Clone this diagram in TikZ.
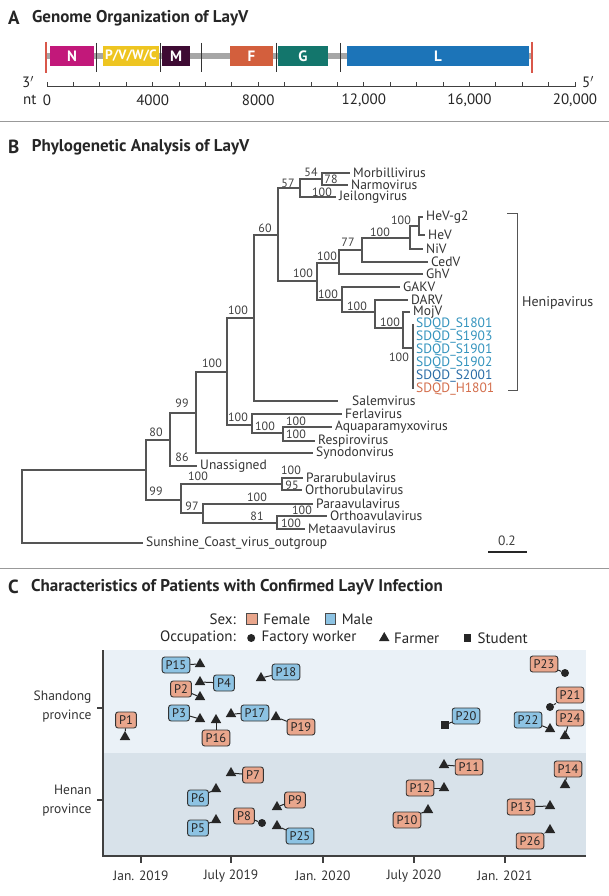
\documentclass[tikz,border=0pt]{standalone}
\usepackage{fontspec}
\setmainfont{PT Sans}
\usetikzlibrary{ positioning,      % For easy node-relative placements
                 shapes.geometric, % For the farmer triangles
               }

\definecolor{segN}{HTML}{C2187A}
\definecolor{segP}{HTML}{EEC521}
\definecolor{segM}{HTML}{3E0B33}
\definecolor{segF}{HTML}{D35F3D}
\definecolor{segG}{HTML}{13766C}
\definecolor{segL}{HTML}{1C74B8}
\definecolor{endred}{HTML}{D9574A}
\definecolor{treegray}{HTML}{555555}
\definecolor{sdqdblue}{HTML}{3494BE}
\definecolor{sdqddark}{HTML}{2A6CA6}
\definecolor{sdqdred}{HTML}{D46F4D}
\definecolor{femalefill}{HTML}{E9A68C}
\definecolor{malefill}{HTML}{8DC3E3}
\definecolor{shandongbg}{HTML}{EAF1F7}
\definecolor{henanbg}{HTML}{D8E2EA}

\newcommand{\leaffont}{\fontsize{13.5}{14}\selectfont}
\newcommand{\bootfont}{\fontsize{12}{13}\selectfont}

\tikzstyle{letter} = [anchor=west, inner sep=0pt, font=\fontsize{19}{20}\selectfont\bfseries, text=black!85]
\tikzstyle{title} = [anchor=west, inner sep=0pt, font=\fontsize{17}{19}\selectfont\bfseries, text=black!85]
\tikzstyle{rule} = [draw=black!40, line width=1pt]
\tikzstyle{segment} = [rectangle, minimum height=20pt, inner sep=0pt, text=white, font=\fontsize{15}{16}\selectfont\bfseries]
\tikzstyle{gap} = [draw=black!80, line width=1pt]
\tikzstyle{endmark} = [draw=endred, line width=1.6pt]
\tikzstyle{branch} = [draw=treegray, line width=1.1pt]
\tikzstyle{leaf} = [anchor=west, inner xsep=3pt, inner ysep=0pt, font=\leaffont, text=black!80]
\tikzstyle{boot} = [inner sep=0pt, font=\bootfont, text=black!75]
\tikzstyle{scalelbl} = [font=\fontsize{15}{17}\selectfont, text=black!85]
\tikzstyle{axislbl} = [font=\fontsize{13.5}{19}\selectfont, text=black!80]
\tikzstyle{legtxt} = [inner sep=0pt, font=\fontsize{15}{16}\selectfont, text=black!85]
\tikzstyle{keybox} = [rectangle, draw=black!70, line width=0.6pt, minimum size=10.5pt, inner sep=0pt]
\tikzstyle{pbox} = [rectangle, rounded corners=2.5pt, draw=black!80, line width=0.9pt, minimum height=16pt, inner xsep=3.5pt, inner ysep=0pt, font=\fontsize{12.5}{13}\selectfont, text=black!85]
\tikzstyle{female} = [pbox, fill=femalefill]
\tikzstyle{male} = [pbox, fill=malefill]
\tikzstyle{farmer} = [regular polygon, regular polygon sides=3, fill=black!85, inner sep=0pt, minimum size=12pt]
\tikzstyle{factory} = [circle, fill=black!85, inner sep=0pt, minimum size=8pt]
\tikzstyle{student} = [rectangle, fill=black!85, inner sep=0pt, minimum size=7.5pt]
\tikzstyle{link} = [draw=black!85, line width=1pt]
\tikzstyle{axis} = [draw=black!75, line width=1.2pt]

\begin{document}
\begin{tikzpicture}[x=1pt, y=-1pt]
  \fill[white] (0,0) rectangle (609,896);
  \useasboundingbox (0,0) rectangle (609,896);

  % ---------------- A: genome
  \node (la) [letter] at (8,18) {A};
  \node (ta) [title, right=12pt of la] {Genome Organization of LayV};

  \coordinate (g3) at (46,56);
  \coordinate (g5) at (532,56);
  \draw[line width=6pt, draw=black!35] (g3) -- (g5);
  \node (sN) [segment, fill=segN, minimum width=44pt] at (72,56) {N};
  \node (sP) [segment, fill=segP, minimum width=56pt, font=\fontsize{13.5}{15}\selectfont\bfseries] at (131,56) {P/V/W/C};
  \node (sM) [segment, fill=segM, minimum width=28pt] at (176,56) {M};
  \node (sF) [segment, fill=segF, minimum width=43pt] at (251.5,56) {F};
  \node (sG) [segment, fill=segG, minimum width=50pt] at (303,56) {G};
  \node (sL) [segment, fill=segL, minimum width=182pt] at (438,56) {L};
  \foreach \x in {96,160.5,201,276,340}
    \draw[gap] (\x,43) -- (\x,72);
  \draw[endmark] (g3) ++(0,-14) -- ++(0,31);
  \draw[endmark] (g5) ++(0,-14) -- ++(0,31);

  % nt scale
  \draw[draw=black!75, line width=1pt] (47,87) -- (575,87);
  \foreach \i in {0,...,20}
    \draw[draw=black!75, line width=1pt] ({47+26.4*\i},87) -- ++(0,-5);
  \node (p3) [scalelbl] at (28,82) {3$'$};
  \node (p5) [scalelbl] at (588,82) {5$'$};
  \node (nt) [scalelbl, anchor=east] at (40,100) {nt};
  \node (t0) [scalelbl] at (47,100) {0};
  \foreach \v/\t in {4/4000, 8/8000, 12/{12,000}, 16/{16,000}, 20/{20,000}}
    \node[scalelbl] at ({47+26.4*\v},100) {\t};

  \draw[rule] (0,122) -- (609,122);

  % ---------------- B: tree
  \node (lb) [letter] at (8,147) {B};
  \node (tb) [title, right=12pt of lb] {Phylogenetic Analysis of LayV};

  % splits: x of the split, y where its parent branch meets it
  \coordinate (root) at (22,506);
  \coordinate (nBase) at (146,470);
  \coordinate (nUpper) at (170,440);
  \coordinate (nOrth) at (196,413);
  \coordinate (nCore) at (227,372);
  \coordinate (nHenJ) at (254,318);
  \coordinate (nMid) at (278,235);
  \coordinate (nJeil) at (300,188);
  \coordinate (nMorb) at (322,179);
  \coordinate (nHeni) at (317,281);
  \coordinate (nHev1) at (339,263);
  \coordinate (nHev2) at (362,250);
  \coordinate (nHev3) at (410,238);
  \coordinate (nHev4) at (419,226);
  \coordinate (nGak) at (342,300);
  \coordinate (nDar) at (375,312);
  \coordinate (nMoj) at (403,328);
  \coordinate (nSd) at (413,348);
  \coordinate (nFer) at (252,425);
  \coordinate (nResp) at (283,433);
  \coordinate (nRubAv) at (181,500);
  \coordinate (nRub) at (282,484);
  \coordinate (nAv) at (203,513);
  \coordinate (nAv2) at (277,523);

  % tips
  \node (morb) [leaf] at (350,173) {Morbillivirus};
  \node (narm) [leaf] at (348,185) {Narmovirus};
  \node (jeil) [leaf] at (336,197) {Jeilongvirus};
  \node (hevg) [leaf] at (423,217) {HeV-g2};
  \node (hev) [leaf] at (425,235) {HeV};
  \node (niv) [leaf] at (423,249) {NiV};
  \node (cedv) [leaf] at (428,262) {CedV};
  \node (ghv) [leaf] at (423,274) {GhV};
  \node (gakv) [leaf] at (400,287) {GAKV};
  \node (darv) [leaf] at (408,300) {DARV};
  \node (mojv) [leaf] at (410,312) {MojV};
  \node (sd1) [leaf, text=sdqdblue] at (413,324) {SDQD\_S1801};
  \node (sd2) [leaf, text=sdqdblue] at (413,337) {SDQD\_S1903};
  \node (sd3) [leaf, text=sdqdblue] at (413,350) {SDQD\_S1901};
  \node (sd4) [leaf, text=sdqdblue] at (413,363) {SDQD\_S1902};
  \node (sd5) [leaf, text=sdqddark] at (413,376) {SDQD\_S2001};
  \node (sd6) [leaf, text=sdqdred] at (413,389) {SDQD\_H1801};
  \node (salem) [leaf, inner xsep=14pt] at (338,401) {Salemvirus};
  \node (ferla) [leaf] at (342,414) {Ferlavirus};
  \node (aqua) [leaf] at (332,427) {Aquaparamyxovirus};
  \node (resp) [leaf] at (315,441) {Respirovirus};
  \node (syno) [leaf] at (313,453) {Synodonvirus};
  \node (unas) [leaf] at (197,466) {Unassigned};
  \node (parar) [leaf] at (303,478) {Pararubulavirus};
  \node (orthr) [leaf] at (302,490) {Orthorubulavirus};
  \node (paraa) [leaf] at (313,504) {Paraavulavirus};
  \node (orthoa) [leaf] at (327,516) {Orthoavulavirus};
  \node (meta) [leaf] at (305,529) {Metaavulavirus};
  \node (sunc) [leaf] at (143,543) {Sunshine\_Coast\_virus\_outgroup};

  \draw[branch] (root) |- (nBase) (root) |- (sunc.west)
    (nBase) |- (nUpper) (nBase) |- (nRubAv)
    (nUpper) |- (nOrth) (nUpper) |- (unas.west)
    (nOrth) |- (nCore) (nOrth) |- (syno.west)
    (nCore) |- (nHenJ) (nCore) |- (nFer)
    (nHenJ) |- (nMid) (nHenJ) |- (salem.west)
    (nMid) |- (nJeil) (nMid) |- (nHeni)
    (nJeil) |- (nMorb) (nJeil) |- (jeil.west)
    (nMorb) |- (morb.west) (nMorb) |- (narm.west)
    (nHeni) |- (nHev1) (nHeni) |- (nGak)
    (nHev1) |- (nHev2) (nHev1) |- (ghv.west)
    (nHev2) |- (nHev3) (nHev2) |- (cedv.west)
    (nHev3) |- (nHev4) (nHev3) |- (niv.west)
    (nHev4) |- (hevg.west) (nHev4) |- (hev.west)
    (nGak) |- (gakv.west) (nGak) |- (nDar)
    (nDar) |- (darv.west) (nDar) |- (nMoj)
    (nMoj) |- (mojv.west) (nMoj) |- (nSd)
    (nSd) |- (sd1.west) (nSd) |- (sd6.west)
    (nFer) |- (ferla.west) (nFer) |- (nResp)
    (nResp) |- (aqua.west) (nResp) |- (resp.west)
    (nRubAv) |- (nRub) (nRubAv) |- (nAv)
    (nRub) |- (parar.west) (nRub) |- (orthr.west)
    (nAv) |- (paraa.west) (nAv) |- (nAv2)
    (nAv2) |- (orthoa.west) (nAv2) |- (meta.west);

  % bootstrap values
  \node (b54) [boot] at (311,172) {54};
  \node (b78) [boot] at (331,179) {78};
  \node (b57) [boot] at (288,183) {57};
  \node (bJeil) [boot] at (322,192) {100};
  \node (b60) [boot] at (265,228) {60};
  \node (bHev4) [boot] at (401,220) {100};
  \node (bHev3) [boot] at (380,232) {100};
  \node (b77) [boot] at (348,242) {77};
  \node (bHev1) [boot] at (327,256) {100};
  \node (bHeni) [boot] at (303,273) {100};
  \node (bGak) [boot] at (328,294) {100};
  \node (bDar) [boot] at (357,306) {100};
  \node (bMoj) [boot] at (390,322) {100};
  \node (bSd) [boot] at (399,357) {100};
  \node (bHenJ) [boot] at (238,310) {100};
  \node (bCore) [boot] at (212,363) {100};
  \node (bOrth) [boot] at (182,403) {99};
  \node (b80) [boot] at (156,432) {80};
  \node (b86) [boot] at (182,457) {86};
  \node (bRubAv) [boot] at (156,491) {99};
  \node (bRub) [boot] at (198,476) {100};
  \node (b97) [boot] at (192,506) {97};
  \node (bFer) [boot] at (238,417) {100};
  \node (bResp) [boot] at (265,426) {100};
  \node (bAqua) [boot] at (296,421) {100};
  \node (bRespi) [boot] at (296,434) {100};
  \node (bParar) [boot] at (291,470) {100};
  \node (b95) [boot] at (292,485) {95};
  \node (bParaa) [boot] at (257,497) {100};
  \node (b81) [boot] at (257,516) {81};
  \node (bOrthoa) [boot] at (302,510) {100};
  \node (bMeta) [boot] at (291,523) {100};

  % Henipavirus bracket
  \coordinate (henTop) at (507,213);
  \coordinate (henBot) at (508,390);
  \node (heni) [leaf, font=\fontsize{14}{15}\selectfont] at (519,303) {Henipavirus};
  \draw[branch, line width=1pt] (henTop) -- ++(10,0) |- (henBot);

  % scale bar
  \coordinate (sbL) at (488,552);
  \coordinate (sbR) at (527,552);
  \node (sbl) [boot, font=\leaffont] at (507,541) {0.2};
  \draw[draw=black!85, line width=1.3pt] (sbL) -- (sbR);

  \draw[rule] (0,568) -- (609,568);

  % ---------------- C: patients
  \node (lc) [letter] at (8,587) {C};
  \node (tc) [title, right=12pt of lc] {Characteristics of Patients with Confirmed LayV Infection};

  % legend
  \node (sexlbl) [legtxt, anchor=east] at (236,619) {Sex:};
  \node (fkey) [keybox, fill=femalefill, right=10pt of sexlbl] {};
  \node (ftxt) [legtxt, right=6pt of fkey] {Female};
  \node (mkey) [keybox, fill=malefill, right=14pt of ftxt] {};
  \node (mtxt) [legtxt, right=6pt of mkey] {Male};
  \node (occlbl) [legtxt, anchor=east] at (236,638) {Occupation:};
  \node (kfac) [factory, right=11pt of occlbl] {};
  \node (tfac) [legtxt, right=6pt of kfac] {Factory worker};
  \node (kfarm) [farmer, right=24pt of tfac] {};
  \node (tfarm) [legtxt, right=6pt of kfarm] {Farmer};
  \node (kstud) [student, right=24pt of tfarm] {};
  \node (tstud) [legtxt, right=6pt of kstud] {Student};

  % plot area
  \fill[shandongbg] (103,650) rectangle (586,753);
  \fill[henanbg] (103,753) rectangle (586,856);
  \draw[axis] (103,650) -- (103,856) -- (586,856);
  \foreach \x/\d in {141/{Jan. 2019}, 231/{July 2019}, 323/{Jan. 2020}, 414/{July 2020}, 505/{Jan. 2021}} {
    \draw[axis] (\x,856) -- ++(0,7);
    \node[axislbl] at (\x,876) {\d};
  }
  \draw[axis] (97,708) -- (103,708);
  \draw[axis] (97,800) -- (103,800);
  \node (shd) [axislbl, anchor=east, align=right] at (95,707) {Shandong\\province};
  \node (hen) [axislbl, anchor=east, align=right] at (95,801) {Henan\\province};

  % Shandong province
  \node (m1) [farmer] at (125,737) {};  \node (p1) [female] at (126,720) {P1};   \draw[link] (p1) -- (m1);
  \node (m2) [farmer] at (200,697) {};  \node (p2) [female] at (181,689) {P2};   \draw[link] (p2) -- (m2);
  \node (m3) [farmer] at (200,719) {};  \node (p3b) [male] at (179,713) {P3};    \draw[link] (p3b) -- (m3);
  \node (m4) [farmer] at (200,682) {};  \node (p4) [male] at (224,683) {P4};     \draw[link] (p4) -- (m4);
  \node (m15) [farmer] at (200,664) {}; \node (p15) [male] at (176,665) {P15};   \draw[link] (p15) -- (m15);
  \node (m16) [farmer] at (216,720) {}; \node (p16) [female] at (216,738) {P16}; \draw[link] (p16) -- (m16);
  \node (m17) [farmer] at (231,714) {}; \node (p17) [male] at (255,713) {P17};   \draw[link] (p17) -- (m17);
  \node (m18) [farmer] at (261,678) {}; \node (p18) [male] at (286,672) {P18};   \draw[link] (p18) -- (m18);
  \node (m19) [farmer] at (276,717) {}; \node (p19) [female] at (301,727) {P19}; \draw[link] (p19) -- (m19);
  \node (m20) [student] at (445,725) {}; \node (p20) [male] at (466,716) {P20};  \draw[link] (p20) -- (m20);
  \node (m21) [factory] at (550,707) {}; \node (p21) [female] at (570,695) {P21}; \draw[link] (p21) -- (m21);
  \node (m22) [farmer] at (550,729) {}; \node (p22) [male] at (528,720) {P22};   \draw[link] (p22) -- (m22);
  \node (m23) [factory] at (565,673) {}; \node (p23) [female] at (544,664) {P23}; \draw[link] (p23) -- (m23);
  \node (m24) [farmer] at (565,736) {}; \node (p24) [female] at (570,718) {P24}; \draw[link] (p24) -- (m24);

  % Henan province
  \node (m5) [farmer] at (216,820) {};  \node (p5b) [male] at (198,828) {P5};    \draw[link] (p5b) -- (m5);
  \node (m6) [farmer] at (216,789) {};  \node (p6) [male] at (198,798) {P6};     \draw[link] (p6) -- (m6);
  \node (m7) [farmer] at (231,773) {};  \node (p7) [female] at (253,775) {P7};   \draw[link] (p7) -- (m7);
  \node (m8) [factory] at (262,823) {}; \node (p8) [female] at (244,816) {P8};   \draw[link] (p8) -- (m8);
  \node (m9) [farmer] at (277,807) {};  \node (p9) [female] at (295,800) {P9};   \draw[link] (p9) -- (m9);
  \node (m10) [farmer] at (428,810) {}; \node (p10) [female] at (407,820) {P10}; \draw[link] (p10) -- (m10);
  \node (m11) [farmer] at (444,765) {}; \node (p11) [female] at (469,767) {P11}; \draw[link] (p11) -- (m11);
  \node (m12) [farmer] at (444,788) {}; \node (p12) [female] at (420,788) {P12}; \draw[link] (p12) -- (m12);
  \node (m13) [farmer] at (550,806) {}; \node (p13) [female] at (521,807) {P13}; \draw[link] (p13) -- (m13);
  \node (m14) [farmer] at (565,785) {}; \node (p14) [female] at (568,769) {P14}; \draw[link] (p14) -- (m14);
  \node (m25) [farmer] at (277,826) {}; \node (p25) [male] at (300,836) {P25};   \draw[link] (p25) -- (m25);
  \node (m26) [farmer] at (550,830) {}; \node (p26) [female] at (530,841) {P26}; \draw[link] (p26) -- (m26);
\end{tikzpicture}
\end{document}
